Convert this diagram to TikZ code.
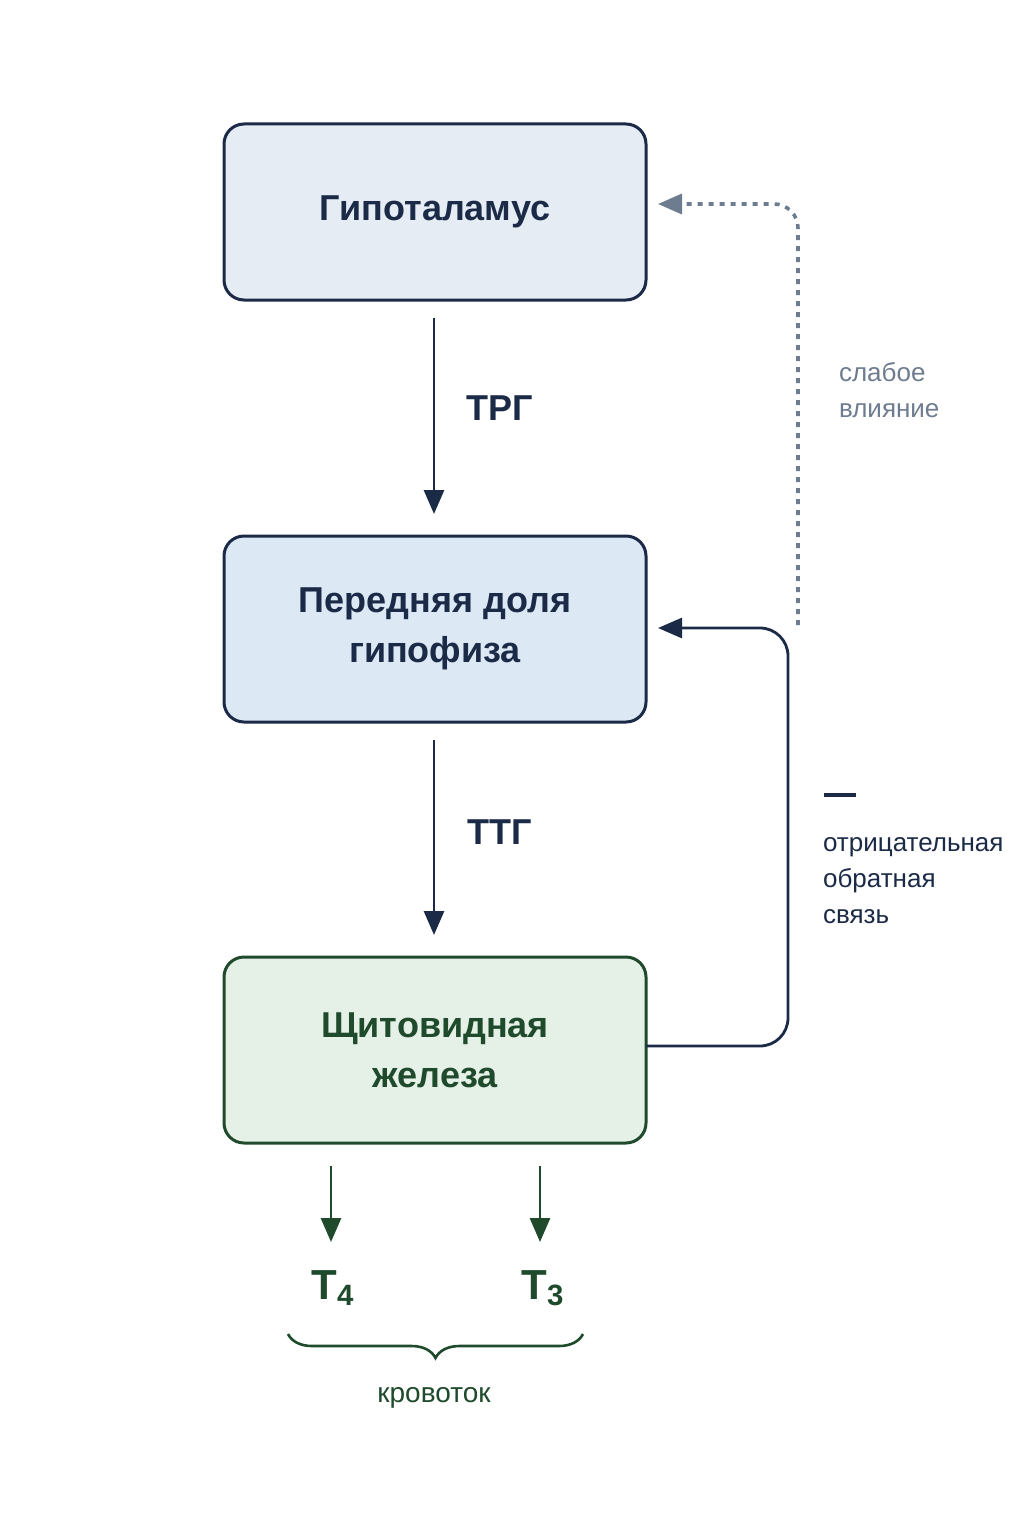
\documentclass[tikz,border=0pt]{standalone}
\usepackage{fontspec}
\setmainfont{Liberation Sans}
\usetikzlibrary{arrows.meta,decorations.pathreplacing}
\definecolor{navy}{HTML}{1B2A47}
\definecolor{dgreen}{HTML}{1F4A2C}
\definecolor{greyc}{HTML}{6E7C90}
\definecolor{fillA}{HTML}{E6ECF4}
\definecolor{fillB}{HTML}{DDE8F5}
\definecolor{fillC}{HTML}{E5F0E7}
\tikzset{
 box/.style={draw=navy,line width=1.5pt,rounded corners=10pt,minimum width=211pt,minimum height=88pt,align=center,font=\fontsize{18}{25}\selectfont\bfseries,text=navy},
 arr/.style={draw=navy,line width=1.4pt,-{Triangle[length=12pt,width=10pt]}},
 lbl/.style={font=\fontsize{18}{20}\selectfont\bfseries,text=navy},
 side/.style={font=\fontsize{13}{18}\selectfont,align=left,anchor=west},
}
\begin{document}
\begin{tikzpicture}[x=0.5pt,y=-0.5pt]
\useasboundingbox (0,0) rectangle (1024,1536);
\node[box,fill=fillA] (h) at (435,212) {Гипоталамус};
\node[box,fill=fillB,minimum height=93pt] (p) at (435,629) {Передняя доля\\гипофиза};
\node[box,fill=fillC,draw=dgreen,text=dgreen,minimum height=93pt] (t) at (435,1050) {Щитовидная\\железа};
\coordinate (a1) at (434,318); \coordinate (a2) at (434,514);
\draw[arr] (a1) -- (a2);
\node[lbl] (trg) at (500,408) {ТРГ};
\coordinate (b1) at (434,740); \coordinate (b2) at (434,935);
\draw[arr] (b1) -- (b2);
\node[lbl] (ttg) at (500,832) {ТТГ};
\coordinate (f1) at (646,1046); \coordinate (f2) at (788,1046); \coordinate (f3) at (788,628); \coordinate (f4) at (658,628);
\draw[arr,rounded corners=14pt] (f1) -- (f2) -- (f3) -- (f4);
\coordinate (d1) at (798,625); \coordinate (d2) at (798,204); \coordinate (d3) at (658,204);
\draw[draw=greyc,line width=1.8pt,dash pattern=on 2.5pt off 3pt,rounded corners=12pt,-{Triangle[length=12pt,width=10pt]}] (d1) -- (d2) -- (d3);
\node[side,text=greyc] (w) at (832,390) {слабое\\влияние};
\coordinate (m1) at (824,795); \coordinate (m2) at (856,795);
\draw[navy,line width=2.2pt] (m1) -- (m2);
\node[side,text=navy] (nf) at (816,881) {отрицательная\\обратная\\связь};
\coordinate (c1) at (331,1166); \coordinate (c2) at (331,1242);
\coordinate (e1) at (540,1166); \coordinate (e2) at (540,1242);
\draw[arr,draw=dgreen] (c1) -- (c2);
\draw[arr,draw=dgreen] (e1) -- (e2);
\node[font=\fontsize{21}{22}\selectfont\bfseries,text=dgreen] (t4) at (333,1288) {T\textsubscript{4}};
\node[font=\fontsize{21}{22}\selectfont\bfseries,text=dgreen] (t3) at (543,1288) {T\textsubscript{3}};
\coordinate (br1) at (288,1334); \coordinate (br2) at (583,1334);
\draw[dgreen,line width=1.3pt,decorate,decoration={brace,mirror,amplitude=12pt}] (br1) -- (br2);
\node[font=\fontsize{14}{16}\selectfont,text=dgreen] (kr) at (434,1398) {кровоток};
\end{tikzpicture}
\end{document}
